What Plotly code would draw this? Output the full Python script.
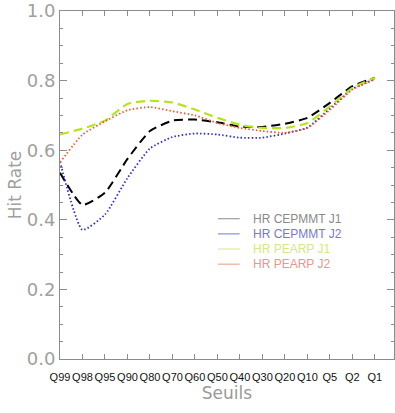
import plotly.graph_objects as go

categories = ["Q99", "Q98", "Q95", "Q90", "Q80", "Q70", "Q60", "Q50", "Q40", "Q30", "Q20", "Q10", "Q5", "Q2", "Q1"]
hr_cepmmt_j1 = [0.535, 0.443, 0.478, 0.575, 0.655, 0.685, 0.688, 0.680, 0.668, 0.667, 0.676, 0.693, 0.736, 0.784, 0.808]
hr_cepmmt_j2 = [0.567, 0.371, 0.415, 0.520, 0.605, 0.638, 0.648, 0.645, 0.636, 0.636, 0.648, 0.665, 0.720, 0.776, 0.805]
hr_pearp_j1 = [0.645, 0.662, 0.685, 0.733, 0.742, 0.737, 0.717, 0.693, 0.673, 0.664, 0.664, 0.678, 0.726, 0.779, 0.808]
hr_pearp_j2 = [0.565, 0.645, 0.683, 0.715, 0.724, 0.712, 0.700, 0.678, 0.664, 0.655, 0.650, 0.664, 0.716, 0.774, 0.803]
series_names = ["HR CEPMMT J1", "HR CEPMMT J2", "HR PEARP J1", "HR PEARP J2"]
y_ticks = [0.0, 0.2, 0.4, 0.6, 0.8, 1.0]

line_colors = ["#000000", "#2a2ad8", "#b8e41c", "#f05a30"]
legend_colors = ["#8a8a8a", "#7878d0", "#d4e884", "#e89888"]
dashes = ["9px,5px", "1.5px,2.2px", "9px,5px", "1.5px,2.2px"]
widths = [2.0, 1.8, 2.2, 1.8]

narrow = "Liberation Sans Narrow, Liberation Sans, Arial, sans-serif"

xi = list(range(len(categories)))
fig = go.Figure()
for name, vals, col, d, w in zip(series_names, [hr_cepmmt_j1, hr_cepmmt_j2, hr_pearp_j1, hr_pearp_j2],
                                 line_colors, dashes, widths):
    fig.add_trace(go.Scatter(x=xi, y=vals, mode="lines", name=name,
                             line=dict(color=col, dash=d, width=w, shape="spline", smoothing=0.5),
                             showlegend=False))

# manual legend
for i, (name, col) in enumerate(zip(series_names, legend_colors)):
    yy = 0.403 - i * 0.0435
    fig.add_shape(type="line", xref="paper", yref="paper", x0=0.473, x1=0.538, y0=yy, y1=yy,
                  line=dict(color=col, width=1))
    fig.add_annotation(xref="paper", yref="paper", x=0.572, y=yy, text=name, showarrow=False,
                       xanchor="left", yanchor="middle",
                       font=dict(family=narrow, size=12, color=col))

axis_col = "#8c8c8c"
fig.update_layout(
    width=395, height=413,
    margin=dict(l=60, r=1, t=11, b=54),
    paper_bgcolor="white", plot_bgcolor="white",
    xaxis=dict(range=[0, 14.85], tickmode="array", tickvals=xi, ticktext=categories,
               automargin=False, tickangle=0, ticklabelstandoff=8,
               showgrid=False, zeroline=False, showline=True, linecolor=axis_col, linewidth=1,
               mirror="ticks", ticks="inside", ticklen=5, tickcolor=axis_col,
               tickfont=dict(family=narrow, size=11, color="#111111"),
               title=dict(text="Seuils", standoff=1,
                          font=dict(family="DejaVu Sans, sans-serif", size=17, color="#9a9a9a"))),
    yaxis=dict(range=[0, 1], tickmode="array", tickvals=y_ticks, tickformat=".1f",
               automargin=False,
               showgrid=False, zeroline=False, showline=True, linecolor=axis_col, linewidth=1,
               mirror="ticks", ticks="inside", ticklen=7, tickcolor=axis_col,
               minor=dict(dtick=0.05, ticks="inside", ticklen=3, tickcolor=axis_col, showgrid=False),
               tickfont=dict(family="DejaVu Sans, sans-serif", size=18, color="#a0a0a0"),
               title=dict(text="Hit Rate", standoff=0,
                          font=dict(family="DejaVu Sans, sans-serif", size=17, color="#a0a0a0"))),
)

fig.write_html("out.html", config={"displayModeBar": False},
               post_script="document.body.style.margin='0';")
